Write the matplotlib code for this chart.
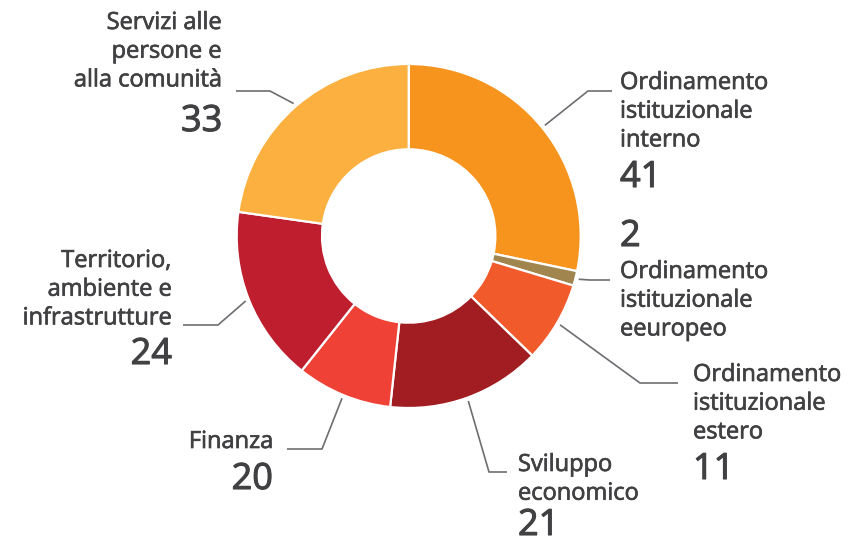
import numpy as np
import matplotlib
matplotlib.use("Agg")
from matplotlib import pyplot as plt
from matplotlib import patheffects as pe

# slice sizes as drawn in the picture (the "Finanza" slice is drawn smaller than its label says)
names = [
    ['Ordinamento', 'istituzionale', 'interno'],
    ['Ordinamento', 'istituzionale', 'eeuropeo'],
    ['Ordinamento', 'istituzionale', 'estero'],
    ['Sviluppo', 'economico'],
    ['Finanza'],
    ['Territorio,', 'ambiente e', 'infrastrutture'],
    ['Servizi alle', 'persone e', 'alla comunità'],
]
shares = [41, 2, 11, 21, 13, 24, 33]
shown = ['41', '2', '11', '21', '20', '24', '33']
colors = ['#F7941E', '#A0854F', '#F15A2B', '#A21D21', '#EF4136', '#BE1E2D', '#FBB040']

W, H = 858, 543
CX, CY, R = 408.7, 236.0, 172.0
TEXT = '#414042'
LINE = '#6D6E71'
FONT = 'Open Sans'
bold_fx = [pe.withStroke(linewidth=0.5, foreground=TEXT)]

# label layout in pixels (x, align, first line y, number y, elbow, line end)
layout = [
    (620, 'left', 83, 178, (588, 91), (612, 91)),
    (620, 'left', 272, 237, (590, 280), (610, 280)),
    (693, 'left', 375, 470, (640, 383), (678, 383)),
    (518, 'left', 465, 526, (489, 472), (507, 472)),
    (273, 'right', 442, 480, (322, 449), (287, 449)),
    (172, 'right', 261, 355, (218, 325), (183, 325)),
    (222, 'right', 23, 122, (270, 91), (236, 91)),
]
LINE_GAP = 28.7

fig = plt.figure(figsize=(W / 100, H / 100), dpi=100)
ax = fig.add_axes([0, 0, 1, 1])

# y axis is inverted (pixel coords), so counterclock=True runs clockwise on screen
wedges, _ = ax.pie(shares, colors=colors, startangle=-90, counterclock=True,
                   center=(CX, CY), radius=R,
                   wedgeprops=dict(width=R - 86.7, edgecolor='white', linewidth=1.6))
ax.set_xlim(0, W)
ax.set_ylim(H, 0)
ax.set_aspect('equal')
ax.axis('off')

for w, lines, num, (tx, ha, y0, ny, elbow, end) in zip(wedges, names, shown, layout):
    mid = np.deg2rad((w.theta1 + w.theta2) / 2)
    sx = CX + R * 1.02 * np.cos(mid)
    sy = CY + R * 1.02 * np.sin(mid)
    ax.plot([sx, elbow[0], end[0]], [sy, elbow[1], end[1]], color=LINE, lw=1.2,
            solid_capstyle='butt')
    for k, line in enumerate(lines):
        ax.text(tx, y0 + k * LINE_GAP, line, ha=ha, va='center', fontsize=17,
                color=TEXT, family=FONT, path_effects=bold_fx)
    ax.text(tx, ny, num, ha=ha, va='center', fontsize=26, color=TEXT, family=FONT,
            path_effects=[pe.withStroke(linewidth=0.8, foreground=TEXT)])

plt.savefig('out.png', dpi=100)
